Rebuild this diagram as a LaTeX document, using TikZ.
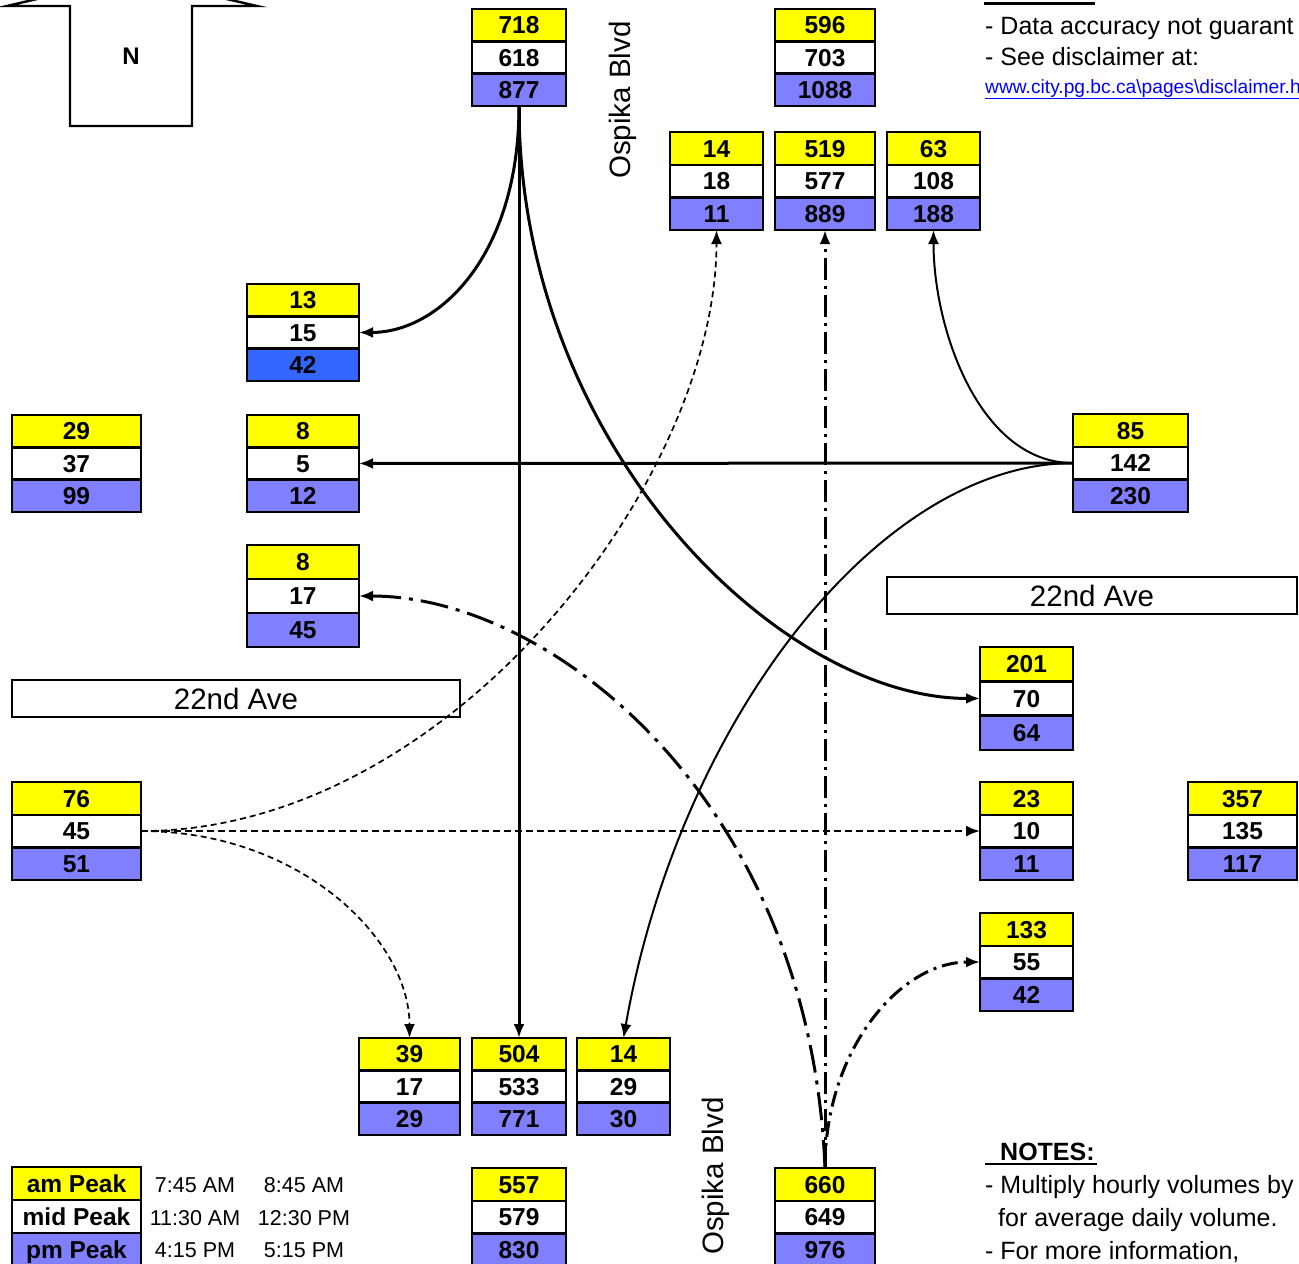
\documentclass[tikz,border=0pt]{standalone}
\usepackage{fontspec}
\setmainfont{Liberation Sans}
\usetikzlibrary{arrows.meta}
\definecolor{pmblue}{HTML}{8080FF}
\definecolor{brightblue}{HTML}{3366FF}
\definecolor{yel}{HTML}{FFFF00}
\definecolor{urlblue}{HTML}{0000FF}
\tikzset{
  cell/.style={draw, line width=2.4pt, anchor=north west, inner sep=0pt, outer sep=0pt,
    font=\fontsize{24.5}{28}\selectfont\bfseries, text height=17.5pt, text depth=0pt},
  tipx/.style={-{Latex[length=14pt,width=11pt]}},
  flowthick/.style={tipx, line width=3pt},
  flowthin/.style={tipx, line width=2pt},
  flowdash/.style={tipx, line width=2pt, dash pattern=on 7pt off 4pt},
  flowdd/.style={tipx, line width=3pt},
  road/.style={draw, line width=2.2pt, anchor=north west, inner sep=0pt, outer sep=0pt,
    font=\fontsize{29.5}{34}\selectfont, text height=21pt, text depth=0pt},
  note/.style={anchor=base west, inner sep=0pt, font=\fontsize{25}{30}\selectfont},
  timetxt/.style={anchor=base, inner sep=0pt, font=\fontsize{21.5}{26}\selectfont},
}
\newcommand\trip[8][pmblue]{%
  \node[cell, fill=yel, minimum width=#4pt, minimum height=#5pt] (#2-t) at (#3) {#6};
  \node[cell, fill=white, minimum width=#4pt, minimum height=#5pt] (#2-m) at (#2-t.south west) {#7};
  \node[cell, fill=#1, minimum width=#4pt, minimum height=#5pt] (#2-b) at (#2-m.south west) {#8};
}
\begin{document}
\begin{tikzpicture}[x=1pt,y=-1pt]
\useasboundingbox (0,0) rectangle (1299,1264);
\fill[white] (0,0) rectangle (1299,1264);

% north arrow
\draw[line width=2.4pt, line join=miter] (131,-23) -- (7,6) -- (70,6) -- (70,126) -- (192,126) -- (192,6) -- (257,6) -- cycle;
\node[inner sep=0pt, font=\fontsize{24}{28}\selectfont\bfseries] (north) at (131,56) {N};

% notes top right
\draw[line width=3pt] (984,3) -- (1095,3);
\node[note] (d1) at (985,34) {- Data accuracy not guarant};
\node[note] (d2) at (985,65) {- See disclaimer at:};
\node[anchor=base west, inner sep=0pt, font=\fontsize{19.2}{22}\selectfont, text=urlblue] (url) at (985,93) {\underline{www.city.pg.bc.ca\textbackslash pages\textbackslash disclaimer.h}};

% road labels
\node[rotate=90, inner sep=0pt, font=\fontsize{29.5}{34}\selectfont] (osp1) at (623,100) {Ospika Blvd};
\node[rotate=90, inner sep=0pt, font=\fontsize{29.5}{34}\selectfont] (osp2) at (716,1176) {Ospika Blvd};
\node[road, minimum width=410pt, minimum height=37pt] (ave1) at (887,577) {22nd Ave};
\node[road, minimum width=448pt, minimum height=37pt] (ave2) at (12,680) {22nd Ave};

% count boxes
\trip{nA}{472,9}{94}{32.3}{718}{618}{877}
\trip{nB}{775,9}{100}{32.3}{596}{703}{1088}
\trip{nL}{670,132}{93}{32.7}{14}{18}{11}
\trip{nT}{775,132}{100}{32.7}{519}{577}{889}
\trip{nR}{887,132}{93}{32.7}{63}{108}{188}
\trip[brightblue]{wA}{247,284}{112}{32.3}{13}{15}{42}
\trip{wO}{12,415}{129}{32.3}{29}{37}{99}
\trip{wT}{247,415}{112}{32.3}{8}{5}{12}
\trip{wR}{247,545}{112}{34}{8}{17}{45}
\trip{ePk}{1073,414}{115}{32.7}{85}{142}{230}
\trip{eR}{980,647}{93}{34.3}{201}{70}{64}
\trip{eIn}{12,782}{129}{32.7}{76}{45}{51}
\trip{eT}{980,782}{93}{32.7}{23}{10}{11}
\trip{eO}{1188,782}{109}{32.7}{357}{135}{117}
\trip{eL}{980,913}{93}{32.7}{133}{55}{42}
\trip{sR}{359,1038}{101}{32.3}{39}{17}{29}
\trip{sT}{472,1038}{94}{32.3}{504}{533}{771}
\trip{sL}{577,1038}{93}{32.3}{14}{29}{30}
\trip{sO}{472,1168}{94}{32.7}{557}{579}{830}
\trip{sIn}{775,1168}{100}{32.7}{660}{649}{976}
\trip{lg}{12,1167}{129}{33}{am Peak}{mid Peak}{pm Peak}

% legend times
\node[timetxt] (t1a) at (195,1192) {7:45 AM};
\node[timetxt] (t1b) at (304,1192) {8:45 AM};
\node[timetxt] (t2a) at (195,1225) {11:30 AM};
\node[timetxt] (t2b) at (304,1225) {12:30 PM};
\node[timetxt] (t3a) at (195,1257) {4:15 PM};
\node[timetxt] (t3b) at (304,1257) {5:15 PM};

% notes bottom right
\node[note] (n0) at (1000,1160) {\bfseries NOTES:};
\draw[line width=2.8pt] (985,1164) -- (1097,1164);
\node[note] (n1) at (985,1193) {- Multiply hourly volumes by};
\node[note] (n2) at (998,1226) {for average daily volume.};
\node[note] (n3) at (985,1259) {- For more information,};

% connectors
\draw[flowthick] (nA-b.south) -- (sT-t.north);
\draw[flowthick] (nA-b.south) .. controls +(0,150) and +(80,0) .. (wA-m.east);
\draw[flowthick] (nA-b.south) .. controls +(0,340) and +(-200,0) .. (eR-m.west);
\draw[flowthick] (ePk-m.west) -- (wT-m.east);
\draw[flowthin] (ePk-m.west) .. controls +(-93,0) and +(0,100) .. (nR-b.south);
\draw[flowthin] (ePk-m.west) .. controls +(-193,0) and +(56,-318) .. (sL-t.north);
\draw[flowdash] (eIn-m.east) -- (eT-m.west);
\draw[flowdash, line width=1.7pt, dash pattern=on 6pt off 4pt] (eIn-m.east) .. controls +(309,0) and +(0,250) .. (nL-b.south);
\draw[flowdash, line width=1.7pt, dash pattern=on 6pt off 4pt] (eIn-m.east) .. controls +(160,0) and +(0,-98) .. (sR-t.north);
\draw[flowdd, dash pattern=on 22pt off 6pt on 3pt off 6pt] (sIn-t.north) -- (nT-b.south);
\draw[flowdd, dash pattern=on 28pt off 8pt on 4pt off 8pt] (sIn-t.north) .. controls +(-15,-368) and +(192,0) .. (wR-m.east);
\draw[flowdd, dash pattern=on 16pt off 6pt on 3pt off 6pt] (sIn-t.north) .. controls +(0,-118) and +(-80,0) .. (eL-m.west);
\end{tikzpicture}
\end{document}
